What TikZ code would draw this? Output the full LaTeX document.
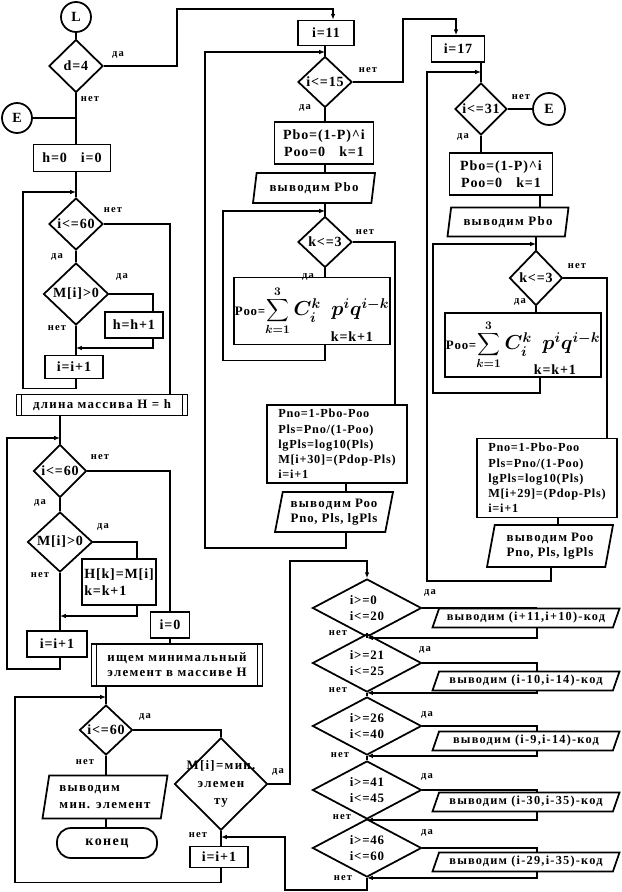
\documentclass[tikz,border=0pt]{standalone}
\usepackage{fontspec}
\usepackage{graphicx}
\setmainfont{Liberation Serif}[LetterSpace=6]
\newfontfamily\ru{Liberation Serif}[LetterSpace=10]
\usetikzlibrary{shapes, arrows.meta}
\newdimen\pix
\pix=0.03cm
\newcommand{\pooformula}{Poo={\LARGE\boldmath$\mathop{\vcenter{\hbox{\scalebox{1.35}{$\displaystyle\sum$}}}}\limits_{\scriptscriptstyle k=1}^{\scriptscriptstyle 3}C_i^k\;\,p^iq^{i-k}$}}

\begin{document}
\begin{tikzpicture}[x=0.03cm, y=-0.03cm, line width=1.5pt, >={Latex[length=5pt,width=4pt]}, font=\fontsize{12}{14}\selectfont\bfseries]
	\tikzstyle{block}=[
	draw,
	rectangle,
	fill=white,
	inner sep=1pt,
	align=center
	]
	\tikzstyle{decision}=[
	draw,
	diamond,
	fill=white,
	inner sep=0pt,
	align=center
	]
	\tikzstyle{io}=[
	draw,
	trapezium,
	trapezium left angle=75,
	trapezium right angle=105,
	trapezium stretches body,
	fill=white,
	inner sep=1pt,
	align=center,
	font=\fontsize{11}{13}\selectfont\bfseries
	]
	\tikzstyle{ioline}=[io, trapezium left angle=64, trapezium right angle=116, minimum width=187\pix, minimum height=19\pix, font=\fontsize{10.5}{12}\ru\bfseries]
	\tikzstyle{codecheck}=[decision, aspect=2, align=left, minimum width=109\pix, minimum height=58\pix, font=\fontsize{11}{13}\selectfont\bfseries]
	\tikzstyle{conn}=[draw, circle, fill=white, minimum size=30\pix, inner sep=0pt]
	\tikzstyle{calc}=[block, align=left, font=\fontsize{10.5}{13}\selectfont\bfseries]
	\tikzstyle{sub}=[block, font=\fontsize{11}{13}\ru\bfseries, path picture={
		\draw ([xshift=5\pix]path picture bounding box.north west) -- ([xshift=5\pix]path picture bounding box.south west);
		\draw ([xshift=-5\pix]path picture bounding box.north east) -- ([xshift=-5\pix]path picture bounding box.south east);}]
	\tikzstyle{ans}=[inner sep=0pt, font=\fontsize{9}{10}\ru\bfseries]
	\useasboundingbox (0,0) rectangle (622,892);

	\node[conn] (L) at (76,17) {L};
	\node[decision, minimum width=54\pix, minimum height=53\pix] (D4) at (76,66) {d=4};
	\node[conn] (E1) at (17,118) {E};
	\node[block, minimum width=77\pix, minimum height=27\pix] (H0) at (72,158) {h=0\quad i=0};
	\node[decision, minimum width=54\pix, minimum height=52\pix] (C1) at (76,224) {i<=60};
	\node[decision, minimum width=65\pix, minimum height=62\pix] (M1) at (76,294) {M[i]>0};
	\node[block, minimum width=58\pix, minimum height=26\pix] (HI) at (134,325) {h=h+1};
	\node[block, minimum width=58\pix, minimum height=23\pix] (I1) at (74,367) {i=i+1};
	\node[sub, minimum width=171\pix, minimum height=21\pix] (LEN) at (102,405) {длина массива H = h};

	\node[decision, minimum width=53\pix, minimum height=53\pix] (C2) at (60,471) {i<=60};
	\node[decision, minimum width=65\pix, minimum height=60\pix] (M2) at (60,542) {M[i]>0};
	\node[block, minimum width=74\pix, minimum height=46\pix, align=left] (HK) at (119,582) {H[k]=M[i]\\k=k+1};
	\node[block, minimum width=60\pix, minimum height=26\pix] (I2) at (57,644) {i=i+1};
	\node[block, minimum width=39\pix, minimum height=26\pix] (Z) at (170,625) {i=0};
	\node[sub, minimum width=171\pix, minimum height=42\pix] (FIND) at (177,665) {ищем минимальный\\элемент в массиве H};

	\node[decision, minimum width=53\pix, minimum height=50\pix] (C3) at (106,730) {i<=60};
	\node[io, minimum width=125\pix, minimum height=43\pix, align=left, font=\fontsize{11}{14}\ru\bfseries] (OUT) at (105,797) {выводим\\мин. элемент};
	\node[block, rounded corners=14\pix, minimum width=100\pix, minimum height=30\pix, font=\fontsize{12}{14}\ru\bfseries] (END) at (107,843) {конец};
	\node[decision, inner sep=-5pt, minimum width=93\pix, minimum height=88\pix, font=\fontsize{11}{15}\ru\bfseries] (EQ) at (221,784) {M[i]=мин.\\элемен\\ту};
	\node[block, minimum width=58\pix, minimum height=21\pix] (I3) at (219,857) {i=i+1};

	\node[block, minimum width=56\pix, minimum height=25\pix] (S11) at (326,33) {i=11};
	\node[decision, minimum width=54\pix, minimum height=51\pix] (C15) at (325,82) {i<=15};
	\node[block, minimum width=99\pix, minimum height=42\pix] (PB1) at (324,143) {Pbo=(1-P)\textasciicircum i\\Poo=0\quad k=1};
	\node[io, minimum width=122\pix, minimum height=30\pix] (OB1) at (314,188) {\ru выводим Pbo};
	\node[decision, minimum width=54\pix, minimum height=51\pix] (K1) at (325,242) {k<=3};
	\node[block, minimum width=155\pix, minimum height=67\pix, font=\fontsize{11}{13}\selectfont\bfseries] (SUM1) at (312,311) {\pooformula};
	\node[inner sep=0pt] (KK1) at (352,337) {k=k+1};
	\node[calc, minimum width=140\pix, minimum height=78\pix] (PN1) at (337,444) {Pno=1-Pbo-Poo\\Pls=Pno/(1-Poo)\\lgPls=log10(Pls)\\M[i+30]=(Pdop-Pls)\\i=i+1};
	\node[io, minimum width=118\pix, minimum height=40\pix] (OP1) at (334,512) {{\ru выводим} Poo\\Pno, Pls, lgPls};

	\node[block, minimum width=53\pix, minimum height=26\pix] (S17) at (458,49) {i=17};
	\node[decision, minimum width=52\pix, minimum height=52\pix] (C31) at (481,109) {i<=31};
	\node[conn, minimum size=32\pix] (E2) at (549,109) {E};
	\node[block, minimum width=103\pix, minimum height=42\pix] (PB2) at (501,174) {Pbo=(1-P)\textasciicircum i\\Poo=0\quad k=1};
	\node[io, minimum width=121\pix, minimum height=29\pix] (OB2) at (508,222) {\ru выводим Pbo};
	\node[decision, minimum width=53\pix, minimum height=55\pix] (K2) at (536,278) {k<=3};
	\node[block, minimum width=154\pix, minimum height=64\pix, font=\fontsize{11}{13}\selectfont\bfseries] (SUM2) at (523,345) {\pooformula};
	\node[inner sep=0pt] (KK2) at (555,370) {k=k+1};
	\node[calc, minimum width=140\pix, minimum height=79\pix] (PN2) at (547,478) {Pno=1-Pbo-Poo\\Pls=Pno/(1-Poo)\\lgPls=log10(Pls)\\M[i+29]=(Pdop-Pls)\\i=i+1};
	\node[io, minimum width=126\pix, minimum height=42\pix] (OP2) at (550,546) {{\ru выводим} Poo\\Pno, Pls, lgPls};

	\node[codecheck] (R1) at (367,608) {i>=0\\i<=20};
	\node[codecheck] (R2) at (367,663) {i>=21\\i<=25};
	\node[codecheck] (R3) at (367,726) {i>=26\\i<=40};
	\node[codecheck] (R4) at (367,790) {i>=41\\i<=45};
	\node[codecheck] (R5) at (367,848) {i>=46\\i<=60};
	\node[ioline] (O1) at (526,618) {выводим (i+11,i+10)-код};
	\node[ioline] (O2) at (526,681) {выводим (i-10,i-14)-код};
	\node[ioline] (O3) at (526,741) {выводим (i-9,i-14)-код};
	\node[ioline] (O4) at (526,802) {выводим (i-30,i-35)-код};
	\node[ioline] (O5) at (526,862) {выводим (i-29,i-35)-код};

	\node[ans] (Y1) at (118,55) {да};
	\node[ans] (N1) at (90,99) {нет};
	\node[ans] (N2) at (113,210) {нет};
	\node[ans] (Y2) at (57,257) {да};
	\node[ans] (Y3) at (122,277) {да};
	\node[ans] (N3) at (57,328) {нет};
	\node[ans] (N4) at (100,457) {нет};
	\node[ans] (Y4) at (40,503) {да};
	\node[ans] (Y5) at (103,527) {да};
	\node[ans] (N5) at (40,575) {нет};
	\node[ans] (Y6) at (145,717) {да};
	\node[ans] (N6) at (85,762) {нет};
	\node[ans] (Y7) at (278,772) {да};
	\node[ans] (N7) at (198,835) {нет};
	\node[ans] (N8) at (368,70) {нет};
	\node[ans] (Y8) at (305,108) {да};
	\node[ans] (N9) at (365,232) {нет};
	\node[ans] (Y9) at (308,277) {да};
	\node[ans] (N10) at (521,97) {нет};
	\node[ans] (Y10) at (463,137) {да};
	\node[ans] (N11) at (577,266) {нет};
	\node[ans] (Y11) at (520,302) {да};
	\node[ans] (Y12) at (430,593) {да};
	\node[ans] (N12) at (338,633) {нет};
	\node[ans] (Y13) at (425,650) {да};
	\node[ans] (N13) at (338,690) {нет};
	\node[ans] (Y14) at (427,715) {да};
	\node[ans] (N14) at (340,755) {нет};
	\node[ans] (Y15) at (427,777) {да};
	\node[ans] (N15) at (342,817) {нет};
	\node[ans] (Y16) at (427,833) {да};
	\node[ans] (N16) at (343,878) {нет};

	\coordinate (T1) at (177,9);
	\coordinate (T2) at (290,561);
	\coordinate (T3) at (403,19);
	\coordinate (T5) at (285,837);
	\coordinate (W1) at (23,192);
	\coordinate (W2) at (7,438);
	\coordinate (W3) at (15,697);
	\coordinate (W4) at (205,52);
	\coordinate (W5) at (223,211);
	\coordinate (W6) at (427,72);
	\coordinate (W7) at (433,244);
	\coordinate (J1) at (76,348);
	\coordinate (J2) at (60,616);

	\draw (L) -- (D4);
	\draw (D4.south) -- (D4.south |- H0.north);
	\draw (E1.east) -- (D4.south |- E1.east);
	\draw[->] (D4.east) -| (T1) -| ([xshift=7\pix]S11.north);
	\draw (C1.north |- H0.south) -- (C1.north);
	\draw (C1.south) -- (M1.north);
	\draw (M1.south) -- (M1.south |- I1.north);
	\draw (C1.east) -| ([xshift=68\pix]LEN.north);
	\draw (M1.east) -| ([xshift=19\pix]HI.north);
	\draw[->] ([xshift=19\pix]HI.south) |- (J1);
	\draw[->] (C1.south |- I1.south) -- ++(0,9) -| (W1) -- (C1.north |- W1);

	\draw (C2.north |- LEN.south) -- (C2.north);
	\draw (C2.south) -- (M2.north);
	\draw (M2.south) -- (M2.south |- I2.north);
	\draw (C2.east) -| (Z.north);
	\draw (M2.east) -| ([xshift=18\pix]HK.north);
	\draw[->] ([xshift=18\pix]HK.south) |- (J2);
	\draw[->] (C2.south |- I2.south) -- ++(0,11) -| (W2) -- (C2.north |- W2);
	\draw (Z.south) -- (Z.south |- FIND.north);

	\draw (C3.north |- FIND.south) -- (C3.north);
	\draw (C3.east) -| (EQ.north);
	\draw (C3.south) -- (C3.south |- OUT.north);
	\draw (C3.south |- OUT.south) -- (C3.south |- END.north);
	\draw (EQ.south) -- (EQ.south |- I3.north);
	\draw[->] (EQ.south |- I3.south) -- ++(0,14) -| (W3) -- (C3.north |- W3);
	\draw[->] (EQ.east) -| (T2) -| (R1.north);

	\draw (C15.north |- S11.south) -- (C15.north);
	\draw[->] (C15.east) -| (T3) -| ([xshift=-2\pix]S17.north);
	\draw (C15.south) -- (C15.south |- PB1.north);
	\draw (C15.south |- PB1.south) -- (C15.south |- OB1.north);
	\draw (K1.north |- OB1.south) -- (K1.north);
	\draw (K1.south) -- (K1.south |- SUM1.north);
	\draw[->] (K1.south |- SUM1.south) -- ++(0,15) -| (W5) -- (K1.north |- W5);
	\draw (K1.east) -| ([xshift=58\pix]PN1.north);
	\draw ([xshift=9\pix]PN1.south) -- ([xshift=9\pix]PN1.south |- OP1.north);
	\draw[->] ([xshift=12\pix]OP1.south) -- ++(0,15) -| (W4) -- (C15.north |- W4);

	\draw (C31.north |- S17.south) -- (C31.north);
	\draw (C31.east) -- (E2.west);
	\draw (C31.south) -- (C31.south |- PB2.north);
	\draw ([xshift=39\pix]PB2.south) -- ([xshift=39\pix]PB2.south |- OB2.north);
	\draw (K2.north |- OB2.south) -- (K2.north);
	\draw (K2.south) -- (K2.south |- SUM2.north);
	\draw[->] ([xshift=17\pix]SUM2.south) -- ++(0,15) -| (W7) -- (K2.north |- W7);
	\draw (K2.east) -| ([xshift=60\pix]PN2.north);
	\draw ([xshift=11\pix]PN2.south) -- ([xshift=11\pix]PN2.south |- OP2.north);
	\draw[->] ([xshift=1\pix]OP2.south) -- ++(0,13) -| (W6) -- (C31.north |- W6);

	\draw (R1.south) -- (R2.north);
	\draw (R2.south) -- (R3.north);
	\draw (R3.south) -- (R4.north);
	\draw (R4.south) -- (R5.north);
	\draw (R1.east) -| ([xshift=11\pix]O1.north);
	\draw (R2.east) -| ([xshift=11\pix]O2.north);
	\draw (R3.east) -| ([xshift=11\pix]O3.north);
	\draw (R4.east) -| ([xshift=11\pix]O4.north);
	\draw (R5.east) -| ([xshift=11\pix]O5.north);
	\draw[->] ([xshift=11\pix]O1.south) |- (R1.south);
	\draw[->] ([xshift=11\pix]O2.south) |- (R2.south);
	\draw[->] ([xshift=11\pix]O3.south) |- (R3.south);
	\draw[->] ([xshift=11\pix]O4.south) |- (R4.south);
	\draw[->] ([xshift=11\pix]O5.south) |- (R5.south);
	\draw[->] (R5.south) -- ++(0,12) -| (T5) -- (EQ.south |- T5);
\end{tikzpicture}
\end{document}
